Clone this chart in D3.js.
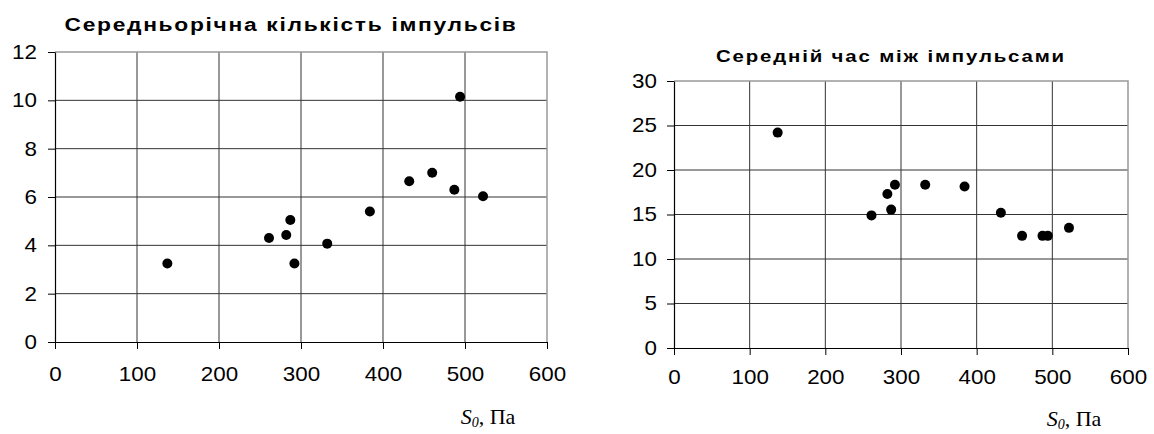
<!DOCTYPE html>
<html>
<head>
<meta charset="utf-8">
<script src="https://cdn.jsdelivr.net/npm/d3@7"></script>
<style>
  body { margin: 0; background: #fff; }
  svg { display: block; }
  .tick text { font-family: "Liberation Sans", Arial, sans-serif; font-size: 20px; fill: #000; }
  .title { font-family: "Liberation Sans", Arial, sans-serif; font-weight: bold; }
  .xlabel { font-family: "Liberation Serif", "Times New Roman", serif; font-size: 22px; }
</style>
</head>
<body>
<svg width="1154" height="434"></svg>
<script>
// S0 values (Pa), shared by both charts
const s0 = [137, 261, 282, 287, 292, 332, 384, 432, 460, 487, 494, 522];
// mean yearly pulse count
const meanCount = [3.25, 4.3, 4.43, 5.05, 3.25, 4.07, 5.4, 6.65, 7.0, 6.3, 10.15, 6.03];
// mean time between pulses
const meanInterval = [24.2, 14.9, 17.3, 15.55, 18.35, 18.35, 18.15, 15.2, 12.6, 12.6, 12.6, 13.5];

const xTicks = [0, 100, 200, 300, 400, 500, 600];
const countTicks = [0, 2, 4, 6, 8, 10, 12];
const intervalTicks = [0, 5, 10, 15, 20, 25, 30];

const titles = ["Середньорічна кількість імпульсів", "Середній час між імпульсами"];

var svg = d3.select("svg");

var panels = [
  {left: 55, right: 547, top: 52, bottom: 342, values: meanCount, yTicks: countTicks,
   title: titles[0], titleX: 291, titleY: 31, titleLen: 453, titleSize: 19,
   xPad: 18, yPad: 11, labelX: 488, labelY: 424},
  {left: 674, right: 1128, top: 81, bottom: 348, values: meanInterval, yTicks: intervalTicks,
   title: titles[1], titleX: 891, titleY: 62, titleLen: 350, titleSize: 17,
   xPad: 15, yPad: 10, labelX: 1074, labelY: 426}
];

const stretch = 1.2; // titles in the source are drawn wider than the font

panels.forEach(function(p) {
  var x = d3.scaleLinear().domain([0, 600]).range([p.left, p.right]);
  var y = d3.scaleLinear().domain([0, d3.max(p.yTicks)]).range([p.bottom, p.top]);
  var g = svg.append("g");

  // grid
  g.append("g").selectAll("line")
    .data(xTicks.slice(1, -1))
    .join("line")
    .attr("x1", d => x(d)).attr("x2", d => x(d))
    .attr("y1", p.top).attr("y2", p.bottom)
    .attr("stroke", "#333").attr("stroke-width", 1);
  g.append("g").selectAll("line")
    .data(p.yTicks.slice(1, -1))
    .join("line")
    .attr("x1", p.left).attr("x2", p.right)
    .attr("y1", d => y(d)).attr("y2", d => y(d))
    .attr("stroke", "#333").attr("stroke-width", 1);

  // top and right border (lighter)
  g.append("path")
    .attr("d", "M" + p.left + "," + y(d3.max(p.yTicks)) + "H" + x(600) + "V" + p.bottom)
    .attr("fill", "none")
    .attr("stroke", "#999")
    .attr("stroke-width", 1.5);

  var xAxis = g.append("g")
    .attr("transform", "translate(0," + p.bottom + ")")
    .call(d3.axisBottom(x).tickValues(xTicks).tickSize(7).tickPadding(p.xPad).tickSizeOuter(0));
  var yAxis = g.append("g")
    .attr("transform", "translate(" + p.left + ",0)")
    .call(d3.axisLeft(y).tickValues(p.yTicks).tickSize(7).tickPadding(p.yPad).tickSizeOuter(0));
  [xAxis, yAxis].forEach(function(a) {
    a.select(".domain").attr("stroke", "#000").attr("stroke-width", 1.2);
    a.selectAll(".tick line").attr("stroke", "#000");
  });
  // reference digits are a bit wider than the font
  xAxis.selectAll(".tick text").attr("transform", "scale(1.12,1)");
  yAxis.selectAll(".tick text")
    .attr("x", -(7 + p.yPad) / 1.12)
    .attr("transform", "scale(1.12,1)");

  // points
  g.append("g").selectAll("circle")
    .data(s0.map((s, i) => ({s: s, v: p.values[i]})))
    .join("circle")
    .attr("cx", d => x(d.s))
    .attr("cy", d => y(d.v))
    .attr("r", 5)
    .attr("fill", "#000");

  var title = g.append("g")
    .attr("transform", "translate(" + p.titleX + "," + p.titleY + ") scale(" + stretch + ",1)")
    .append("text")
    .attr("class", "title")
    .attr("font-size", p.titleSize)
    .attr("text-anchor", "middle")
    .text(p.title);
  // spread the letters so the title covers the same width as in the reference
  var natural = title.node().getComputedTextLength();
  var spacing = (p.titleLen / stretch - natural) / p.title.length;
  title.attr("letter-spacing", Math.max(0, spacing));

  var lab = g.append("text")
    .attr("class", "xlabel")
    .attr("x", p.labelX)
    .attr("y", p.labelY)
    .attr("text-anchor", "middle");
  lab.append("tspan").attr("font-style", "italic").text("S");
  lab.append("tspan").attr("font-style", "italic").attr("font-size", "14px").attr("dy", 3).text("0");
  lab.append("tspan").attr("dy", -3).text(", Па");
});
</script>
</body>
</html>
